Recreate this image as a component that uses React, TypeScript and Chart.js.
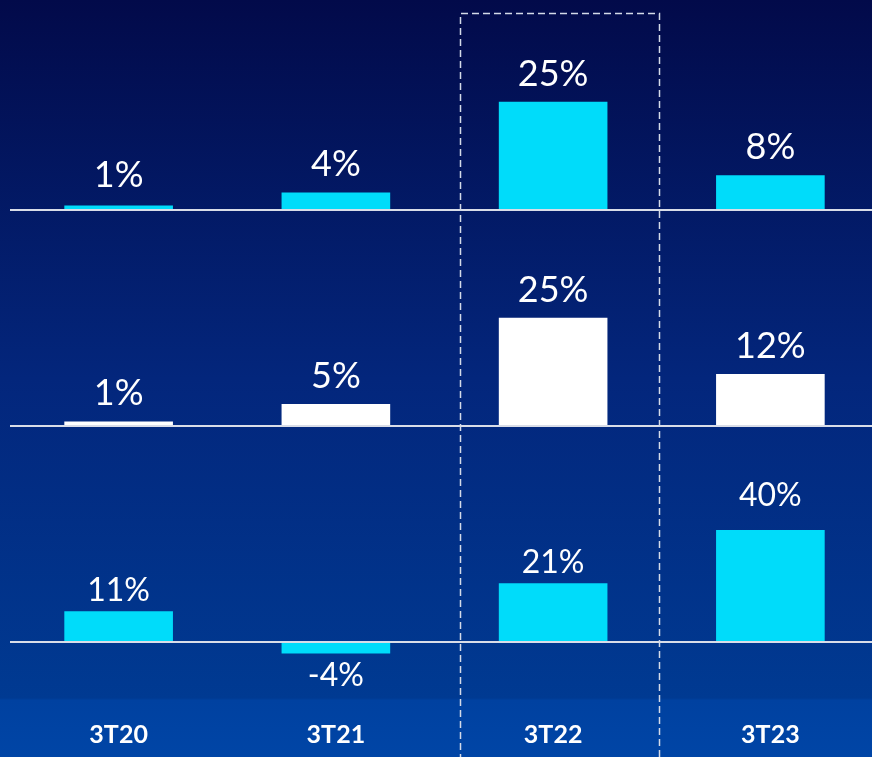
import React, { useEffect, useRef } from 'react';
import { Chart, registerables } from 'chart.js';

Chart.register(...registerables);

const categories = ['3T20', '3T21', '3T22', '3T23'];
const row1Values = [1, 4, 25, 8];
const row2Values = [1, 5, 25, 12];
const row3Values = [11, -4, 21, 40];
const highlightIndex = 2;

const CYAN = '#00DCFA';
const WHITE = '#FFFFFF';
const FONT = 'Lato, "Open Sans", sans-serif';
const labelSizes = [36, 36, 32];
const labelGaps = [
  [18, 16, 16, 16],
  [16, 16, 16, 16],
  [10, 10, 10, 24],
];
const VIEW_H = 757;
const CANVAS_H = 811;

const backgroundPlugin = {
  id: 'bgGradient',
  beforeDraw(chart: any) {
    const { ctx, width, height } = chart;
    const g = ctx.createLinearGradient(0, 0, 0, VIEW_H);
    g.addColorStop(0, '#020A4A');
    g.addColorStop(0.5, '#03267C');
    g.addColorStop(0.922, '#003A92');
    g.addColorStop(0.925, '#0041A0');
    g.addColorStop(1, '#0045A6');
    ctx.save();
    ctx.fillStyle = g;
    ctx.fillRect(0, 0, width, height);
    ctx.restore();
  },
};

const baselinePlugin = {
  id: 'baselines',
  afterDatasetsDraw(chart: any) {
    const { ctx, chartArea, width } = chart;
    ctx.save();
    ctx.strokeStyle = '#D9DDE8';
    ctx.lineWidth = 2;
    ['y1', 'y2', 'y3'].forEach((id) => {
      const y = Math.round(chart.scales[id].getPixelForValue(0));
      ctx.beginPath();
      ctx.moveTo(chartArea.left, y);
      ctx.lineTo(width, y);
      ctx.stroke();
    });
    ctx.restore();
  },
};

const labelPlugin = {
  id: 'valueLabels',
  afterDatasetsDraw(chart: any) {
    const { ctx } = chart;
    ctx.save();
    ctx.fillStyle = '#FFFFFF';
    ctx.textAlign = 'center';
    ctx.textBaseline = 'alphabetic';
    chart.data.datasets.forEach((ds: any, di: number) => {
      const meta = chart.getDatasetMeta(di);
      const size = labelSizes[di];
      ctx.font = `${size}px ${FONT}`;
      meta.data.forEach((bar: any, i: number) => {
        const v = ds.data[i];
        const gap = labelGaps[di][i];
        const text = `${v}%`;
        if (v >= 0) {
          ctx.fillText(text, bar.x, bar.y - gap);
        } else {
          ctx.fillText(text, bar.x, bar.y + gap + size * 0.72);
        }
      });
    });
    ctx.restore();
  },
};

const highlightPlugin = {
  id: 'highlightBox',
  afterDraw(chart: any) {
    const { ctx, chartArea, height } = chart;
    const x = chart.scales.x;
    const cx = x.getPixelForValue(highlightIndex);
    const cw = (chartArea.right - chartArea.left) / categories.length;
    const left = Math.round(cx - 0.428 * cw) + 0.5;
    const right = Math.round(cx + 0.488 * cw) + 0.5;
    const top = chartArea.top + 2.5;
    const bottom = height + 5;
    ctx.save();
    ctx.strokeStyle = '#D4DAE8';
    ctx.lineWidth = 1.5;
    ctx.setLineDash([7, 4]);
    ctx.beginPath();
    ctx.moveTo(left, bottom);
    ctx.lineTo(left, top);
    ctx.lineTo(right, top);
    ctx.lineTo(right, bottom);
    ctx.stroke();
    ctx.restore();
  },
};

export default function App() {
  const canvasRef = useRef<HTMLCanvasElement | null>(null);

  useEffect(() => {
    if (!canvasRef.current) return;
    const barCommon = {
      grouped: false,
      categoryPercentage: 1,
      barPercentage: 0.5,
      borderWidth: 0,
    };
    const chart = new Chart(canvasRef.current, {
      type: 'bar',
      data: {
        labels: categories,
        datasets: [
          { ...barCommon, label: 'row1', data: row1Values, backgroundColor: CYAN, yAxisID: 'y1' },
          { ...barCommon, label: 'row2', data: row2Values, backgroundColor: WHITE, yAxisID: 'y2' },
          { ...barCommon, label: 'row3', data: row3Values, backgroundColor: CYAN, yAxisID: 'y3' },
        ] as any,
      },
      options: {
        responsive: false,
        animation: false,
        layout: { padding: { left: 10, right: 1, top: 11, bottom: 0 } },
        plugins: {
          legend: { display: false },
          tooltip: { enabled: false },
        },
        scales: {
          x: {
            type: 'category',
            grid: { display: false, drawTicks: false },
            border: { display: false },
            ticks: {
              color: '#FFFFFF',
              font: { family: FONT, size: 25, weight: 'bold' },
              padding: 61,
            },
          },
          y1: { type: 'linear', display: false, min: -4, max: 46, stack: 'rows', stackWeight: 1, weight: 3 },
          y2: { type: 'linear', display: false, min: -4, max: 46, stack: 'rows', stackWeight: 1, weight: 2 },
          y3: { type: 'linear', display: false, min: -6, max: 71, stack: 'rows', stackWeight: 1, weight: 1 },
        } as any,
      },
      plugins: [backgroundPlugin, baselinePlugin, labelPlugin, highlightPlugin],
    });
    return () => chart.destroy();
  }, []);

  return (
    <div style={{ position: 'absolute', left: 0, top: 0, width: 872, height: VIEW_H, overflow: 'hidden' }}>
      <canvas ref={canvasRef} width={880} height={CANVAS_H} style={{ display: 'block', width: 880, height: CANVAS_H }} />
    </div>
  );
}
